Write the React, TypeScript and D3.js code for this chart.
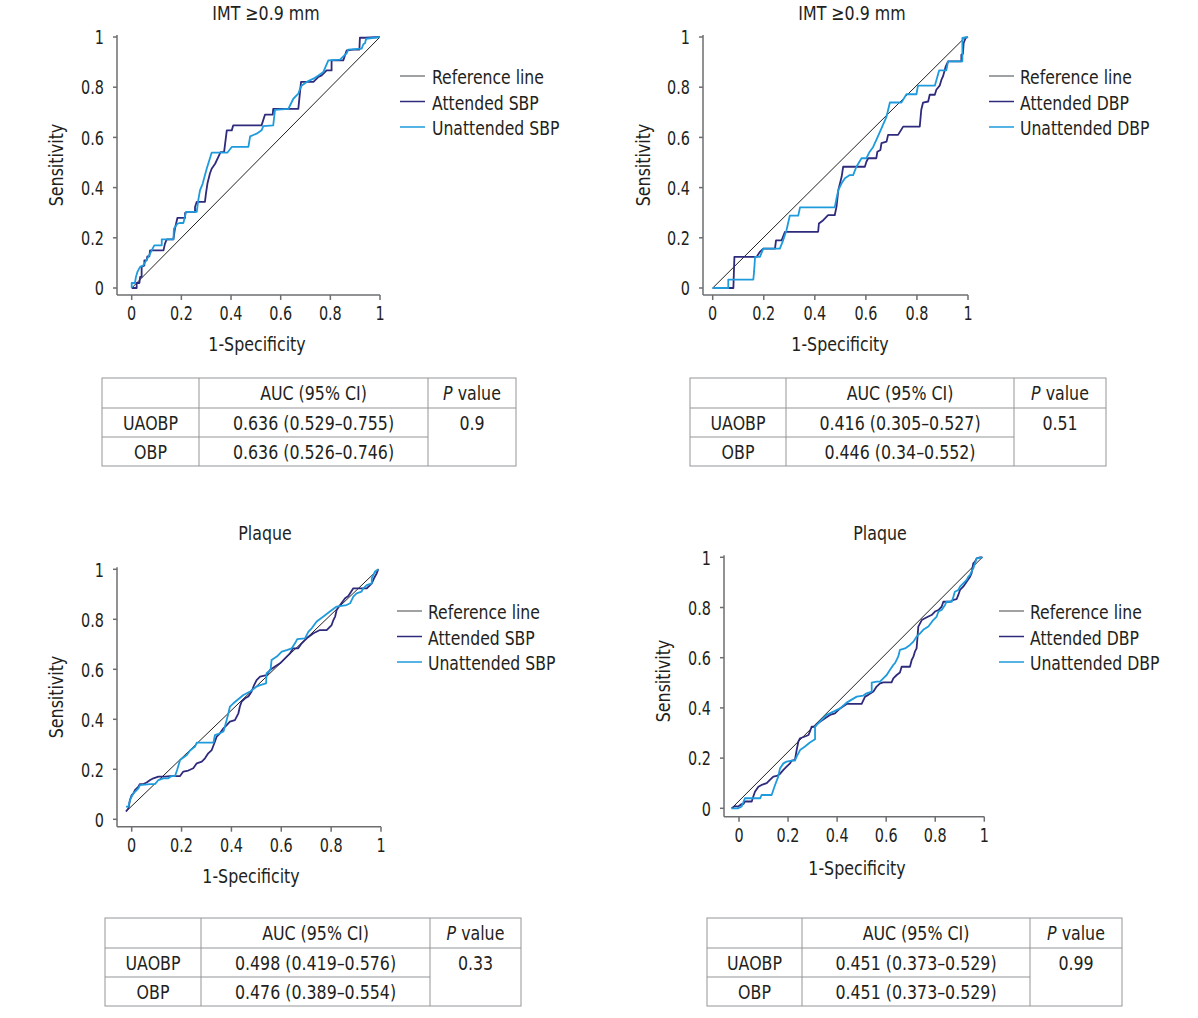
import React from "react";
import * as d3 from "d3";

type Pt = [number, number];

const tickValues = [0, 0.2, 0.4, 0.6, 0.8, 1];
const tickLabels = ["0", "0.2", "0.4", "0.6", "0.8", "1"];

const panelTitles = ["IMT \u22650.9 mm", "IMT \u22650.9 mm", "Plaque", "Plaque"];
const legendLabels = [
  ["Reference line", "Attended SBP", "Unattended SBP"],
  ["Reference line", "Attended DBP", "Unattended DBP"],
  ["Reference line", "Attended SBP", "Unattended SBP"],
  ["Reference line", "Attended DBP", "Unattended DBP"],
];
const rowNames = ["UAOBP", "OBP"];
const aucUaobp = ["0.636 (0.529\u20130.755)", "0.416 (0.305\u20130.527)", "0.498 (0.419\u20130.576)", "0.451 (0.373\u20130.529)"];
const aucObp = ["0.636 (0.526\u20130.746)", "0.446 (0.34\u20130.552)", "0.476 (0.389\u20130.554)", "0.451 (0.373\u20130.529)"];
const pValues = ["0.9", "0.51", "0.33", "0.99"];

// reference diagonals (as printed, slightly off in the lower panels)
const ref1: Pt[] = [[0, 0], [1, 1]];
const ref2: Pt[] = [[0, 0], [0.99, 1]];
const ref3: Pt[] = [[-0.023, 0.031], [0.989, 1]];
const ref4: Pt[] = [[-0.03, 0], [0.992, 1]];

// IMT, SBP
const att1: Pt[] = [[0,0],[0.02,0],[0.02,0.02],[0.031,0.02],[0.034,0.044],[0.04,0.044],[0.04,0.084],[0.051,0.09],[0.051,0.11],[0.06,0.11],[0.063,0.126],[0.071,0.126],[0.074,0.15],[0.128,0.15],[0.134,0.177],[0.141,0.194],[0.168,0.194],[0.174,0.236],[0.184,0.279],[0.215,0.279],[0.215,0.299],[0.221,0.303],[0.255,0.303],[0.255,0.323],[0.262,0.343],[0.295,0.343],[0.299,0.376],[0.305,0.416],[0.315,0.456],[0.322,0.475],[0.336,0.495],[0.349,0.522],[0.358,0.541],[0.372,0.541],[0.383,0.628],[0.403,0.628],[0.409,0.648],[0.523,0.648],[0.537,0.691],[0.568,0.691],[0.57,0.714],[0.671,0.714],[0.682,0.821],[0.732,0.821],[0.752,0.841],[0.765,0.847],[0.785,0.867],[0.805,0.867],[0.805,0.907],[0.852,0.907],[0.866,0.947],[0.893,0.95],[0.917,0.95],[0.919,0.997],[0.94,0.997],[1,1]];
const unatt1: Pt[] = [[0,0],[0,0.02],[0.013,0.02],[0.017,0.044],[0.023,0.064],[0.034,0.084],[0.047,0.09],[0.067,0.124],[0.074,0.137],[0.091,0.17],[0.121,0.17],[0.121,0.194],[0.168,0.194],[0.17,0.236],[0.184,0.256],[0.195,0.259],[0.208,0.259],[0.219,0.303],[0.262,0.303],[0.268,0.349],[0.275,0.389],[0.286,0.416],[0.302,0.475],[0.322,0.539],[0.385,0.539],[0.403,0.562],[0.47,0.562],[0.477,0.604],[0.503,0.615],[0.523,0.628],[0.53,0.645],[0.57,0.648],[0.577,0.71],[0.631,0.714],[0.638,0.728],[0.651,0.754],[0.671,0.774],[0.678,0.794],[0.685,0.807],[0.705,0.821],[0.732,0.834],[0.752,0.847],[0.772,0.861],[0.792,0.907],[0.839,0.91],[0.866,0.936],[0.872,0.95],[0.926,0.954],[0.933,0.971],[0.94,0.976],[0.944,0.993],[1,1]];

// IMT, DBP
const att2: Pt[] = [[0,0],[0.081,0],[0.085,0.124],[0.172,0.124],[0.185,0.144],[0.198,0.157],[0.244,0.157],[0.248,0.19],[0.27,0.19],[0.283,0.224],[0.413,0.224],[0.416,0.257],[0.433,0.27],[0.452,0.29],[0.478,0.29],[0.485,0.324],[0.492,0.39],[0.505,0.443],[0.511,0.483],[0.596,0.483],[0.602,0.503],[0.609,0.517],[0.641,0.517],[0.645,0.543],[0.657,0.55],[0.661,0.577],[0.681,0.583],[0.687,0.61],[0.726,0.61],[0.746,0.643],[0.811,0.643],[0.817,0.71],[0.824,0.739],[0.844,0.743],[0.85,0.77],[0.87,0.77],[0.876,0.79],[0.889,0.806],[0.896,0.83],[0.902,0.843],[0.913,0.883],[0.922,0.903],[0.974,0.903],[0.974,0.929],[0.98,0.933],[0.983,0.976],[0.991,0.996],[1,1]];
const unatt2: Pt[] = [[0,0],[0.061,0],[0.061,0.033],[0.159,0.033],[0.162,0.064],[0.166,0.124],[0.185,0.124],[0.198,0.157],[0.263,0.157],[0.276,0.19],[0.289,0.23],[0.302,0.288],[0.335,0.288],[0.342,0.321],[0.478,0.321],[0.485,0.357],[0.492,0.39],[0.505,0.417],[0.518,0.437],[0.537,0.45],[0.55,0.45],[0.563,0.483],[0.583,0.517],[0.602,0.517],[0.615,0.543],[0.628,0.561],[0.641,0.59],[0.661,0.636],[0.681,0.683],[0.694,0.739],[0.739,0.739],[0.759,0.772],[0.798,0.772],[0.804,0.806],[0.87,0.806],[0.887,0.867],[0.915,0.867],[0.922,0.903],[0.978,0.903],[0.978,0.996],[1,1]];

// Plaque, SBP
const att3: Pt[] = [[-0.023,0.031],[-0.013,0.044],[-0.007,0.077],[0,0.097],[0.007,0.104],[0.013,0.117],[0.027,0.131],[0.033,0.141],[0.047,0.141],[0.06,0.147],[0.074,0.157],[0.087,0.164],[0.107,0.171],[0.134,0.171],[0.154,0.173],[0.194,0.173],[0.207,0.191],[0.227,0.195],[0.247,0.204],[0.261,0.224],[0.281,0.231],[0.294,0.244],[0.307,0.264],[0.321,0.277],[0.334,0.311],[0.341,0.331],[0.354,0.344],[0.368,0.364],[0.381,0.377],[0.394,0.391],[0.414,0.397],[0.428,0.424],[0.434,0.451],[0.441,0.471],[0.455,0.484],[0.468,0.491],[0.481,0.511],[0.491,0.537],[0.501,0.557],[0.515,0.571],[0.541,0.577],[0.555,0.597],[0.575,0.611],[0.595,0.624],[0.615,0.644],[0.635,0.664],[0.648,0.684],[0.668,0.684],[0.682,0.704],[0.702,0.724],[0.729,0.744],[0.755,0.757],[0.782,0.757],[0.802,0.777],[0.809,0.797],[0.816,0.811],[0.822,0.837],[0.836,0.857],[0.856,0.884],[0.869,0.893],[0.889,0.924],[0.943,0.924],[0.956,0.937],[0.963,0.944],[0.972,0.964],[0.983,0.984],[0.989,1]];
const unatt3: Pt[] = [[-0.023,0.051],[-0.013,0.051],[-0.007,0.077],[0,0.091],[0.007,0.104],[0.02,0.117],[0.027,0.124],[0.033,0.137],[0.074,0.141],[0.094,0.141],[0.107,0.157],[0.127,0.164],[0.147,0.164],[0.16,0.173],[0.174,0.173],[0.183,0.2],[0.194,0.237],[0.221,0.257],[0.234,0.275],[0.254,0.291],[0.261,0.307],[0.328,0.307],[0.334,0.337],[0.354,0.344],[0.368,0.351],[0.374,0.371],[0.381,0.397],[0.388,0.424],[0.394,0.451],[0.408,0.464],[0.448,0.497],[0.475,0.511],[0.501,0.531],[0.515,0.537],[0.539,0.544],[0.541,0.584],[0.557,0.597],[0.561,0.637],[0.582,0.651],[0.602,0.671],[0.622,0.677],[0.642,0.684],[0.655,0.704],[0.664,0.721],[0.695,0.724],[0.709,0.751],[0.722,0.764],[0.742,0.791],[0.769,0.811],[0.795,0.831],[0.822,0.851],[0.862,0.857],[0.876,0.864],[0.889,0.891],[0.902,0.904],[0.922,0.911],[0.929,0.924],[0.943,0.937],[0.963,0.944],[0.963,0.964],[0.969,0.977],[0.976,0.991],[0.989,1]];

// Plaque, DBP
const att4: Pt[] = [[-0.03,0],[-0.016,0.009],[-0.003,0.007],[0.011,0.017],[0.018,0.017],[0.024,0.027],[0.052,0.027],[0.058,0.046],[0.065,0.066],[0.072,0.076],[0.079,0.086],[0.092,0.093],[0.113,0.1],[0.126,0.113],[0.14,0.126],[0.154,0.129],[0.167,0.137],[0.181,0.153],[0.194,0.166],[0.208,0.179],[0.215,0.19],[0.228,0.193],[0.235,0.232],[0.242,0.266],[0.249,0.279],[0.269,0.286],[0.283,0.292],[0.289,0.305],[0.296,0.325],[0.31,0.325],[0.317,0.336],[0.33,0.345],[0.351,0.359],[0.371,0.372],[0.391,0.378],[0.412,0.398],[0.439,0.416],[0.5,0.416],[0.514,0.445],[0.527,0.452],[0.548,0.465],[0.561,0.485],[0.575,0.498],[0.588,0.502],[0.622,0.502],[0.629,0.518],[0.643,0.531],[0.656,0.541],[0.663,0.564],[0.697,0.564],[0.704,0.591],[0.711,0.604],[0.717,0.624],[0.724,0.637],[0.731,0.724],[0.745,0.75],[0.758,0.757],[0.772,0.764],[0.785,0.77],[0.799,0.784],[0.813,0.79],[0.826,0.803],[0.833,0.823],[0.86,0.823],[0.874,0.83],[0.887,0.833],[0.894,0.85],[0.901,0.87],[0.914,0.883],[0.928,0.903],[0.942,0.923],[0.948,0.936],[0.955,0.976],[0.962,0.983],[0.969,0.996],[0.982,1],[0.992,1]];
const unatt4: Pt[] = [[-0.03,0],[-0.003,0],[0.011,0.007],[0.024,0.04],[0.086,0.04],[0.092,0.053],[0.133,0.053],[0.147,0.093],[0.16,0.126],[0.167,0.159],[0.181,0.179],[0.194,0.186],[0.215,0.19],[0.228,0.19],[0.235,0.206],[0.249,0.232],[0.269,0.246],[0.289,0.262],[0.31,0.275],[0.31,0.325],[0.33,0.345],[0.357,0.372],[0.385,0.385],[0.412,0.398],[0.439,0.421],[0.48,0.445],[0.507,0.449],[0.52,0.458],[0.541,0.465],[0.541,0.501],[0.561,0.505],[0.575,0.505],[0.588,0.518],[0.602,0.531],[0.615,0.551],[0.629,0.571],[0.636,0.578],[0.649,0.604],[0.656,0.631],[0.677,0.637],[0.697,0.651],[0.711,0.664],[0.724,0.684],[0.738,0.697],[0.751,0.711],[0.772,0.724],[0.792,0.75],[0.806,0.764],[0.813,0.784],[0.826,0.79],[0.84,0.81],[0.846,0.823],[0.867,0.823],[0.874,0.843],[0.88,0.863],[0.894,0.87],[0.901,0.883],[0.914,0.896],[0.928,0.91],[0.935,0.923],[0.942,0.93],[0.948,0.943],[0.955,0.956],[0.962,0.976],[0.969,0.996],[0.992,1]];

const refLines = [ref1, ref2, ref3, ref4];
const attended = [att1, att2, att3, att4];
const unattended = [unatt1, unatt2, unatt3, unatt4];

const FONT = "'DejaVu Sans Condensed', 'DejaVu Sans', sans-serif";
const TEXT = "#231f20";
const AXIS = "#6d6e71";
const C_REF = "#231f20";
const C_ATT = "#2e2a7c";
const C_UNATT = "#1e9bdc";

// page layout of each panel
const layouts = [
  { px: [131.7, 380], py: [288, 37], axisX: 117, axisY: 295, title: [266, 20], yLab: [63, 165], xLab: [257, 351],
    legend: { x: 400, tx: 432, y: 77 }, table: { xs: [102, 199, 428, 516], ys: [378, 408, 437, 466] } },
  { px: [712.7, 968], py: [288, 37], axisX: 703, axisY: 295, title: [852, 20], yLab: [650, 165], xLab: [840, 351],
    legend: { x: 989, tx: 1020, y: 77 }, table: { xs: [690, 786, 1014, 1106], ys: [378, 408, 437, 466] } },
  { px: [131.7, 381], py: [819.3, 569.3], axisX: 117, axisY: 826.7, title: [265, 540], yLab: [63, 697], xLab: [251, 883],
    legend: { x: 397, tx: 428, y: 612 }, table: { xs: [105, 201, 430, 521], ys: [918, 948, 977, 1006] } },
  { px: [739, 984.3], py: [808.3, 557.3], axisX: 724, axisY: 816.7, title: [880, 540], yLab: [670, 681], xLab: [857, 875],
    legend: { x: 999, tx: 1030, y: 612 }, table: { xs: [707, 802, 1030, 1122], ys: [918, 948, 977, 1006] } },
];

// narrow text: the print uses a condensed face, so squeeze DejaVu horizontally
const T = ({ x, y, sx = 0.88, anchor = "start", rotate = 0, dy, children }: any) => (
  <text transform={`translate(${x},${y}) rotate(${rotate}) scale(${sx},1)`} textAnchor={anchor} dy={dy}>
    {children}
  </text>
);

const Panel = ({ i }: { i: number }) => {
  const L = layouts[i];
  const x = d3.scaleLinear().domain([0, 1]).range(L.px);
  const y = d3.scaleLinear().domain([0, 1]).range(L.py);
  const line = d3.line<Pt>().x(d => x(d[0])).y(d => y(d[1]));
  const series = [
    { data: refLines[i], color: C_REF, w: 1, legendColor: "#808285" },
    { data: attended[i], color: C_ATT, w: 1.8, legendColor: C_ATT },
    { data: unattended[i], color: C_UNATT, w: 1.8, legendColor: C_UNATT },
  ];
  const t = L.table;
  const rowMid = (r: number) => (t.ys[r] + t.ys[r + 1]) / 2;
  const colMid = (c: number) => (t.xs[c] + t.xs[c + 1]) / 2;
  return (
    <g fontFamily={FONT} fill={TEXT} fontSize={20}>
      <T x={L.title[0]} y={L.title[1]} anchor="middle">{panelTitles[i]}</T>
      {/* axes */}
      <line x1={L.axisX} x2={L.axisX} y1={y(1) - 2} y2={L.axisY} stroke={AXIS} strokeWidth={1.5} />
      <line x1={L.axisX} x2={x(1)} y1={L.axisY} y2={L.axisY} stroke={AXIS} strokeWidth={1.5} />
      {tickValues.map((v, k) => (
        <g key={"y" + k}>
          <line x1={L.axisX - 4} x2={L.axisX} y1={y(v)} y2={y(v)} stroke={AXIS} strokeWidth={1.5} />
          <T x={L.axisX - 13} y={y(v)} dy="0.36em" anchor="end" sx={0.8}>{tickLabels[k]}</T>
        </g>
      ))}
      {tickValues.map((v, k) => (
        <g key={"x" + k}>
          <line x1={x(v)} x2={x(v)} y1={L.axisY} y2={L.axisY + 5} stroke={AXIS} strokeWidth={1.5} />
          <T x={x(v)} y={L.axisY + 25} anchor="middle" sx={0.8}>{tickLabels[k]}</T>
        </g>
      ))}
      <T x={L.yLab[0]} y={L.yLab[1]} rotate={-90} anchor="middle">Sensitivity</T>
      <T x={L.xLab[0]} y={L.xLab[1]} anchor="middle">1-Specificity</T>
      {/* curves */}
      {series.map((s, k) => (
        <path key={"s" + k} d={line(s.data) || ""} fill="none" stroke={s.color} strokeWidth={s.w} strokeLinejoin="round" />
      ))}
      {/* legend */}
      {series.map((s, k) => (
        <g key={"l" + k}>
          <line x1={L.legend.x} x2={L.legend.x + 25} y1={L.legend.y + k * 25.5 - 1} y2={L.legend.y + k * 25.5 - 1}
            stroke={s.legendColor} strokeWidth={1.5} />
          <T x={L.legend.tx} y={L.legend.y + k * 25.5} dy="0.36em" sx={0.87}>{legendLabels[i][k]}</T>
        </g>
      ))}
      {/* table */}
      <g stroke="#939598" strokeWidth={1} fill="none">
        <rect x={t.xs[0]} y={t.ys[0]} width={t.xs[3] - t.xs[0]} height={t.ys[3] - t.ys[0]} />
        <line x1={t.xs[0]} x2={t.xs[3]} y1={t.ys[1]} y2={t.ys[1]} />
        <line x1={t.xs[0]} x2={t.xs[2]} y1={t.ys[2]} y2={t.ys[2]} />
        <line x1={t.xs[1]} x2={t.xs[1]} y1={t.ys[0]} y2={t.ys[3]} />
        <line x1={t.xs[2]} x2={t.xs[2]} y1={t.ys[0]} y2={t.ys[3]} />
      </g>
      <g>
        <T x={colMid(1)} y={rowMid(0)} dy="0.36em" anchor="middle">AUC (95% CI)</T>
        <T x={colMid(2)} y={rowMid(0)} dy="0.36em" anchor="middle"><tspan fontStyle="italic">P</tspan> value</T>
        <T x={colMid(0)} y={rowMid(1)} dy="0.36em" anchor="middle">{rowNames[0]}</T>
        <T x={colMid(0)} y={rowMid(2)} dy="0.36em" anchor="middle">{rowNames[1]}</T>
        <T x={colMid(1)} y={rowMid(1)} dy="0.36em" anchor="middle">{aucUaobp[i]}</T>
        <T x={colMid(1)} y={rowMid(2)} dy="0.36em" anchor="middle">{aucObp[i]}</T>
        <T x={colMid(2)} y={rowMid(1)} dy="0.36em" anchor="middle">{pValues[i]}</T>
      </g>
    </g>
  );
};

export default function App() {
  return (
    <svg width={1198} height={1018} style={{ position: "absolute", left: 0, top: 0, background: "#fff" }}>
      <rect width={1198} height={1018} fill="#fff" />
      {[0, 1, 2, 3].map(i => <Panel key={i} i={i} />)}
    </svg>
  );
}
